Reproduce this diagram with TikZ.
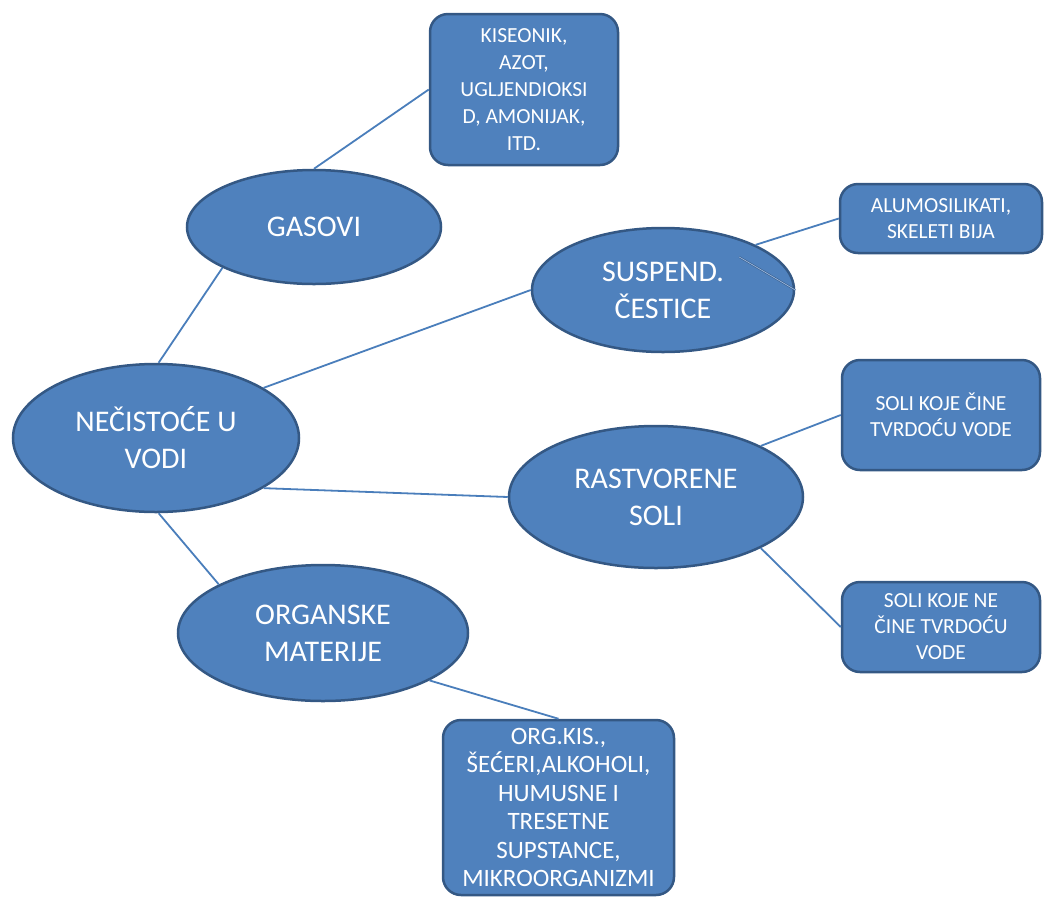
\documentclass[tikz,border=0pt]{standalone}
\usepackage{fontspec}
\setmainfont{Carlito}
\usetikzlibrary{shapes.geometric,calc}
\definecolor{fillblue}{RGB}{79,129,189}
\definecolor{edgeblue}{RGB}{52,88,132}
\definecolor{lineblue}{RGB}{74,126,187}
\definecolor{ghostline}{RGB}{150,180,220}
\begin{document}
\begin{tikzpicture}[x=1pt,y=-1pt,
  oval/.style={ellipse, fill=fillblue, draw=edgeblue, line width=2.5pt, text=white,
    align=center, inner sep=0pt, font=\fontsize{30}{37}\selectfont},
  card/.style={rectangle, rounded corners=18pt, fill=fillblue, draw=edgeblue, line width=2.5pt,
    text=white, align=center, inner sep=0pt, font=\fontsize{21.5}{26}\selectfont},
  link/.style={draw=lineblue, line width=1.8pt}]
\useasboundingbox (0,0) rectangle (1045,898);

% ellipses
\node[oval, minimum width=254pt, minimum height=114pt] (gas) at (314,227) {GASOVI};
\node[oval, minimum width=286pt, minimum height=148pt] (nec) at (156,438) {NEČISTOĆE U\\VODI};
\node[oval, minimum width=262pt, minimum height=124pt] (susp) at (663,290) {SUSPEND.\\ČESTICE};
\node[oval, minimum width=294pt, minimum height=142pt] (rastv) at (656,497) {RASTVORENE\\SOLI};
\node[oval, minimum width=290pt, minimum height=136pt] (org) at (323,633) {ORGANSKE\\MATERIJE};

% boxes
\node[card, minimum width=188pt, minimum height=151pt, font=\fontsize{21.5}{27}\selectfont] (kis) at (524,89.5)
  {KISEONIK,\\AZOT,\\UGLJENDIOKSI\\D, AMONIJAK,\\ITD.};
\node[card, minimum width=202pt, minimum height=69pt] (alumo) at (941,218.5)
  {ALUMOSILIKATI,\\SKELETI BIJA};
\node[card, minimum width=198pt, minimum height=110pt] (cine) at (941,415)
  {SOLI KOJE ČINE\\TVRDOĆU VODE};
\node[card, minimum width=198pt, minimum height=90pt] (ne) at (941,627)
  {SOLI KOJE NE\\ČINE TVRDOĆU\\VODE};
\node[card, minimum width=231pt, minimum height=175pt, font=\fontsize{25}{28.4}\selectfont] (orgkis) at (558.5,807.5)
  {ORG.KIS.,\\ŠEĆERI,ALKOHOLI,\\HUMUSNE I\\TRESETNE\\SUPSTANCE,\\MIKROORGANIZMI};

% connectors
\draw[link] (nec.88) -- (gas.204);
\draw[link] (gas.north) -- (kis.west);
\draw[link] (nec.25) -- (susp.west);
\draw[link] (susp.26) -- (alumo.west);
\draw[link] (nec.335) -- (rastv.west);
\draw[link] (nec.272) -- (org.155);
\draw[link] (org.336) -- (orgkis.north);
\draw[link] (rastv.26) -- (cine.west);
\draw[link] (rastv.334) -- (ne.west);
\draw[draw=edgeblue, double=ghostline, double distance=0.8pt, line width=0.5pt]
  (susp.east) -- ++(-56,-33);
\end{tikzpicture}
\end{document}
